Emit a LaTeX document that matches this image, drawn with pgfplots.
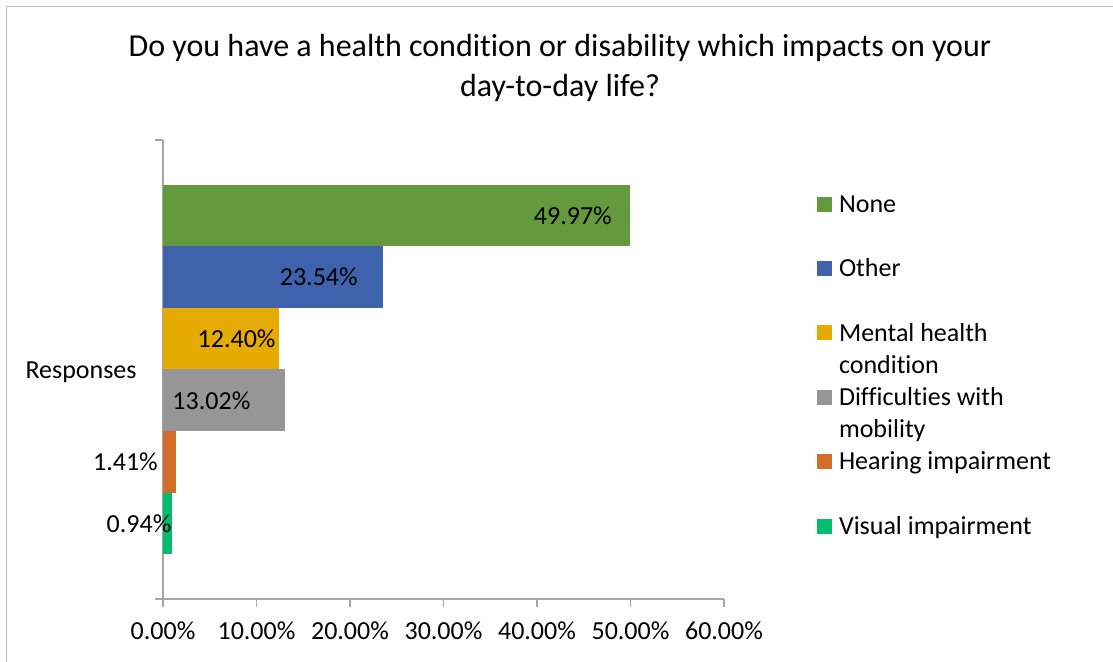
\documentclass[border=0pt]{standalone}
\usepackage{pgfplots}
\pgfplotsset{compat=1.18}
\usepackage{fontspec}
\setmainfont{Carlito}[Ligatures={NoCommon}, RawFeature={-liga}]
\definecolor{cNone}{RGB}{98,154,61}
\definecolor{cOther}{RGB}{62,98,172}
\definecolor{cMental}{RGB}{230,171,0}
\definecolor{cMob}{RGB}{150,150,150}
\definecolor{cHear}{RGB}{211,110,42}
\definecolor{cVis}{RGB}{0,190,110}
\definecolor{axgray}{RGB}{166,166,166}
\begin{document}
\begin{tikzpicture}
\path[use as bounding box] (0,0) rectangle (556.5pt,331pt);
\draw[axgray!80, line width=0.7pt] (3.3pt,0pt) -- (3.3pt,327.7pt) -- (556.5pt,327.7pt);
\node[align=center, font=\fontsize{16}{20}\selectfont] at (280pt,297pt) {Do you have a health condition or disability which impacts on your\\day-to-day life?};
\begin{axis}[
  at={(81.5pt,31.5pt)}, anchor=south west,
  scale only axis, width=280.5pt, height=229.5pt,
  xmin=0, xmax=60, ymin=-3.73, ymax=3.73,
  xbar, bar width=1, bar shift=0pt,
  axis lines*=left,
  axis line style={axgray, line width=0.75pt, -},
  every tick/.style={axgray, line width=0.75pt},
  tick align=outside, major tick length=4pt,
  xtick={0,10,...,60},
  xticklabel={\pgfmathprintnumber[fixed,fixed zerofill,precision=2]{\tick}\%},
  /pgf/number format/assume math mode=true,
  ticklabel style={font=\fontsize{13}{16}\selectfont},
  xticklabel style={yshift=-4pt},
  ytick={-3.73,3.73}, yticklabels={,},
  extra y ticks={0}, extra y tick labels={Responses},
  extra y tick style={major tick length=0pt, yticklabel style={inner sep=0pt, xshift=-13pt, yshift=-1.5pt}},
  point meta=x,
  nodes near coords={\pgfmathprintnumber[fixed,fixed zerofill,precision=2]{\pgfplotspointmeta}\%},
  nodes near coords style={font=\fontsize{13}{16}\selectfont, text=black, inner sep=0pt, anchor=east},
  legend cell align=left,
  legend style={at={(1.1658,0.8911)}, anchor=north west, draw=none, fill=none,
    inner sep=0pt, outer sep=0pt, row sep=3.5pt, column sep=3.5pt,
    font=\fontsize{13}{16}\selectfont, nodes={inner sep=0pt, align=left}},
  legend image code/.code={\fill[#1, draw=none] (0pt,3.5pt) rectangle (7.5pt,11pt);},
  clip=false,
]
\addplot[fill=cNone, draw=none, every node near coord/.append style={xshift=-9pt}] coordinates {(49.97,2.5)};
\addlegendentry{\strut None\\\strut}
\addplot[fill=cOther, draw=none, every node near coord/.append style={xshift=-12.5pt}] coordinates {(23.54,1.5)};
\addlegendentry{\strut Other\\\strut}
\addplot[fill=cMental, draw=none, every node near coord/.append style={xshift=-1.5pt}] coordinates {(12.40,0.5)};
\addlegendentry{\strut Mental health\\\strut condition}
\addplot[fill=cMob, draw=none, every node near coord/.append style={xshift=-17pt}] coordinates {(13.02,-0.5)};
\addlegendentry{\strut Difficulties with\\\strut mobility}
\addplot[fill=cHear, draw=none, every node near coord/.append style={xshift=-9pt}] coordinates {(1.41,-1.5)};
\addlegendentry{\strut Hearing impairment\\\strut}
\addplot[fill=cVis, draw=none, every node near coord/.append style={xshift=0pt}] coordinates {(0.94,-2.5)};
\addlegendentry{\strut Visual impairment\\\strut}
\end{axis}
\end{tikzpicture}
\end{document}
